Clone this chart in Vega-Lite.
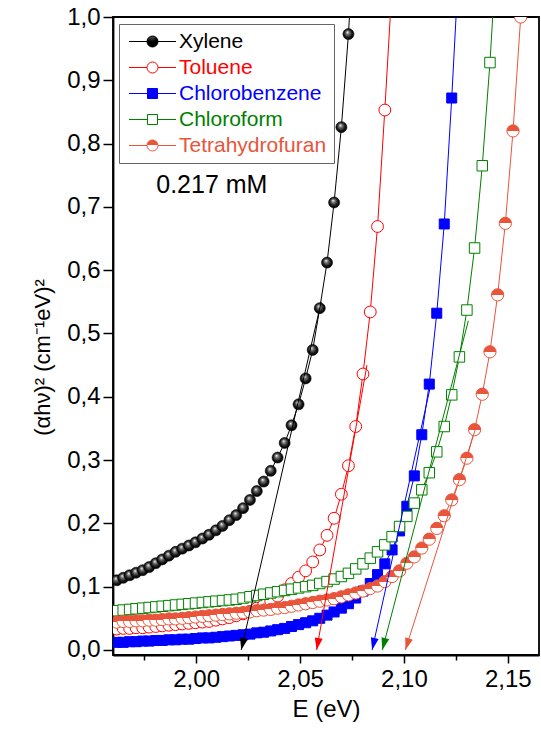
{
  "$schema": "https://vega.github.io/schema/vega-lite/v6.json",
  "width": 426,
  "height": 638,
  "autosize": {"type": "none"},
  "padding": {"left": 113, "top": 17, "right": 2, "bottom": 76},
  "background": "#ffffff",
  "config": {
    "font": "Liberation Sans",
    "view": {"stroke": "#000000", "strokeWidth": 1.8},
    "axis": {
      "grid": false,
      "domainColor": "#000000",
      "domainWidth": 1.8,
      "tickColor": "#000000",
      "tickWidth": 1.5,
      "labelColor": "#000000",
      "titleColor": "#000000",
      "titleFontWeight": "normal",
      "labelFont": "Liberation Sans",
      "titleFont": "Liberation Sans",
      "labelFlush": false,
      "labelOverlap": false
    }
  },
  "datasets": {
    "spectra": [
      {"Solvent": "Xylene", "E": 1.9618, "Y": 0.110},
      {"Solvent": "Xylene", "E": 1.9649, "Y": 0.114},
      {"Solvent": "Xylene", "E": 1.9680, "Y": 0.118},
      {"Solvent": "Xylene", "E": 1.9711, "Y": 0.122},
      {"Solvent": "Xylene", "E": 1.9743, "Y": 0.126},
      {"Solvent": "Xylene", "E": 1.9774, "Y": 0.131},
      {"Solvent": "Xylene", "E": 1.9806, "Y": 0.137},
      {"Solvent": "Xylene", "E": 1.9837, "Y": 0.143},
      {"Solvent": "Xylene", "E": 1.9869, "Y": 0.149},
      {"Solvent": "Xylene", "E": 1.9901, "Y": 0.155},
      {"Solvent": "Xylene", "E": 1.9933, "Y": 0.160},
      {"Solvent": "Xylene", "E": 1.9965, "Y": 0.165},
      {"Solvent": "Xylene", "E": 1.9997, "Y": 0.170},
      {"Solvent": "Xylene", "E": 2.0030, "Y": 0.176},
      {"Solvent": "Xylene", "E": 2.0062, "Y": 0.182},
      {"Solvent": "Xylene", "E": 2.0095, "Y": 0.189},
      {"Solvent": "Xylene", "E": 2.0127, "Y": 0.196},
      {"Solvent": "Xylene", "E": 2.0160, "Y": 0.205},
      {"Solvent": "Xylene", "E": 2.0193, "Y": 0.213},
      {"Solvent": "Xylene", "E": 2.0226, "Y": 0.224},
      {"Solvent": "Xylene", "E": 2.0259, "Y": 0.237},
      {"Solvent": "Xylene", "E": 2.0292, "Y": 0.251},
      {"Solvent": "Xylene", "E": 2.0325, "Y": 0.266},
      {"Solvent": "Xylene", "E": 2.0359, "Y": 0.283},
      {"Solvent": "Xylene", "E": 2.0392, "Y": 0.304},
      {"Solvent": "Xylene", "E": 2.0426, "Y": 0.327},
      {"Solvent": "Xylene", "E": 2.0459, "Y": 0.355},
      {"Solvent": "Xylene", "E": 2.0493, "Y": 0.388},
      {"Solvent": "Xylene", "E": 2.0527, "Y": 0.429},
      {"Solvent": "Xylene", "E": 2.0561, "Y": 0.474},
      {"Solvent": "Xylene", "E": 2.0595, "Y": 0.540},
      {"Solvent": "Xylene", "E": 2.0630, "Y": 0.612},
      {"Solvent": "Xylene", "E": 2.0664, "Y": 0.707},
      {"Solvent": "Xylene", "E": 2.0699, "Y": 0.826},
      {"Solvent": "Xylene", "E": 2.0733, "Y": 0.973},
      {"Solvent": "Xylene", "E": 2.0768, "Y": 1.17},

      {"Solvent": "Toluene", "E": 1.9618, "Y": 0.033},
      {"Solvent": "Toluene", "E": 1.9649, "Y": 0.034},
      {"Solvent": "Toluene", "E": 1.9680, "Y": 0.034},
      {"Solvent": "Toluene", "E": 1.9711, "Y": 0.035},
      {"Solvent": "Toluene", "E": 1.9743, "Y": 0.035},
      {"Solvent": "Toluene", "E": 1.9774, "Y": 0.036},
      {"Solvent": "Toluene", "E": 1.9806, "Y": 0.037},
      {"Solvent": "Toluene", "E": 1.9837, "Y": 0.038},
      {"Solvent": "Toluene", "E": 1.9869, "Y": 0.039},
      {"Solvent": "Toluene", "E": 1.9901, "Y": 0.040},
      {"Solvent": "Toluene", "E": 1.9933, "Y": 0.041},
      {"Solvent": "Toluene", "E": 1.9965, "Y": 0.042},
      {"Solvent": "Toluene", "E": 1.9997, "Y": 0.043},
      {"Solvent": "Toluene", "E": 2.0030, "Y": 0.044},
      {"Solvent": "Toluene", "E": 2.0062, "Y": 0.045},
      {"Solvent": "Toluene", "E": 2.0095, "Y": 0.047},
      {"Solvent": "Toluene", "E": 2.0127, "Y": 0.049},
      {"Solvent": "Toluene", "E": 2.0160, "Y": 0.051},
      {"Solvent": "Toluene", "E": 2.0193, "Y": 0.054},
      {"Solvent": "Toluene", "E": 2.0226, "Y": 0.057},
      {"Solvent": "Toluene", "E": 2.0259, "Y": 0.061},
      {"Solvent": "Toluene", "E": 2.0292, "Y": 0.066},
      {"Solvent": "Toluene", "E": 2.0325, "Y": 0.071},
      {"Solvent": "Toluene", "E": 2.0359, "Y": 0.077},
      {"Solvent": "Toluene", "E": 2.0392, "Y": 0.085},
      {"Solvent": "Toluene", "E": 2.0426, "Y": 0.095},
      {"Solvent": "Toluene", "E": 2.0459, "Y": 0.105},
      {"Solvent": "Toluene", "E": 2.0493, "Y": 0.115},
      {"Solvent": "Toluene", "E": 2.0527, "Y": 0.125},
      {"Solvent": "Toluene", "E": 2.0561, "Y": 0.139},
      {"Solvent": "Toluene", "E": 2.0595, "Y": 0.158},
      {"Solvent": "Toluene", "E": 2.0630, "Y": 0.181},
      {"Solvent": "Toluene", "E": 2.0664, "Y": 0.208},
      {"Solvent": "Toluene", "E": 2.0699, "Y": 0.246},
      {"Solvent": "Toluene", "E": 2.0733, "Y": 0.291},
      {"Solvent": "Toluene", "E": 2.0768, "Y": 0.353},
      {"Solvent": "Toluene", "E": 2.0803, "Y": 0.436},
      {"Solvent": "Toluene", "E": 2.0838, "Y": 0.534},
      {"Solvent": "Toluene", "E": 2.0873, "Y": 0.669},
      {"Solvent": "Toluene", "E": 2.0908, "Y": 0.853},
      {"Solvent": "Toluene", "E": 2.0943, "Y": 1.05},

      {"Solvent": "Chlorobenzene", "E": 1.9618, "Y": 0.012},
      {"Solvent": "Chlorobenzene", "E": 1.9649, "Y": 0.012},
      {"Solvent": "Chlorobenzene", "E": 1.9680, "Y": 0.013},
      {"Solvent": "Chlorobenzene", "E": 1.9711, "Y": 0.013},
      {"Solvent": "Chlorobenzene", "E": 1.9743, "Y": 0.014},
      {"Solvent": "Chlorobenzene", "E": 1.9774, "Y": 0.014},
      {"Solvent": "Chlorobenzene", "E": 1.9806, "Y": 0.015},
      {"Solvent": "Chlorobenzene", "E": 1.9837, "Y": 0.015},
      {"Solvent": "Chlorobenzene", "E": 1.9869, "Y": 0.016},
      {"Solvent": "Chlorobenzene", "E": 1.9901, "Y": 0.016},
      {"Solvent": "Chlorobenzene", "E": 1.9933, "Y": 0.017},
      {"Solvent": "Chlorobenzene", "E": 1.9965, "Y": 0.017},
      {"Solvent": "Chlorobenzene", "E": 1.9997, "Y": 0.018},
      {"Solvent": "Chlorobenzene", "E": 2.0030, "Y": 0.019},
      {"Solvent": "Chlorobenzene", "E": 2.0062, "Y": 0.019},
      {"Solvent": "Chlorobenzene", "E": 2.0095, "Y": 0.020},
      {"Solvent": "Chlorobenzene", "E": 2.0127, "Y": 0.021},
      {"Solvent": "Chlorobenzene", "E": 2.0160, "Y": 0.022},
      {"Solvent": "Chlorobenzene", "E": 2.0193, "Y": 0.023},
      {"Solvent": "Chlorobenzene", "E": 2.0226, "Y": 0.024},
      {"Solvent": "Chlorobenzene", "E": 2.0259, "Y": 0.025},
      {"Solvent": "Chlorobenzene", "E": 2.0292, "Y": 0.027},
      {"Solvent": "Chlorobenzene", "E": 2.0325, "Y": 0.028},
      {"Solvent": "Chlorobenzene", "E": 2.0359, "Y": 0.030},
      {"Solvent": "Chlorobenzene", "E": 2.0392, "Y": 0.032},
      {"Solvent": "Chlorobenzene", "E": 2.0426, "Y": 0.034},
      {"Solvent": "Chlorobenzene", "E": 2.0459, "Y": 0.037},
      {"Solvent": "Chlorobenzene", "E": 2.0493, "Y": 0.040},
      {"Solvent": "Chlorobenzene", "E": 2.0527, "Y": 0.043},
      {"Solvent": "Chlorobenzene", "E": 2.0561, "Y": 0.046},
      {"Solvent": "Chlorobenzene", "E": 2.0595, "Y": 0.050},
      {"Solvent": "Chlorobenzene", "E": 2.0630, "Y": 0.055},
      {"Solvent": "Chlorobenzene", "E": 2.0664, "Y": 0.060},
      {"Solvent": "Chlorobenzene", "E": 2.0699, "Y": 0.066},
      {"Solvent": "Chlorobenzene", "E": 2.0733, "Y": 0.073},
      {"Solvent": "Chlorobenzene", "E": 2.0768, "Y": 0.082},
      {"Solvent": "Chlorobenzene", "E": 2.0803, "Y": 0.093},
      {"Solvent": "Chlorobenzene", "E": 2.0838, "Y": 0.105},
      {"Solvent": "Chlorobenzene", "E": 2.0873, "Y": 0.119},
      {"Solvent": "Chlorobenzene", "E": 2.0908, "Y": 0.136},
      {"Solvent": "Chlorobenzene", "E": 2.0943, "Y": 0.158},
      {"Solvent": "Chlorobenzene", "E": 2.0979, "Y": 0.188},
      {"Solvent": "Chlorobenzene", "E": 2.1014, "Y": 0.227},
      {"Solvent": "Chlorobenzene", "E": 2.1050, "Y": 0.275},
      {"Solvent": "Chlorobenzene", "E": 2.1086, "Y": 0.340},
      {"Solvent": "Chlorobenzene", "E": 2.1122, "Y": 0.420},
      {"Solvent": "Chlorobenzene", "E": 2.1158, "Y": 0.532},
      {"Solvent": "Chlorobenzene", "E": 2.1194, "Y": 0.673},
      {"Solvent": "Chlorobenzene", "E": 2.1230, "Y": 0.872},
      {"Solvent": "Chlorobenzene", "E": 2.1267, "Y": 1.10},

      {"Solvent": "Chloroform", "E": 1.9618, "Y": 0.062},
      {"Solvent": "Chloroform", "E": 1.9649, "Y": 0.063},
      {"Solvent": "Chloroform", "E": 1.9680, "Y": 0.064},
      {"Solvent": "Chloroform", "E": 1.9711, "Y": 0.065},
      {"Solvent": "Chloroform", "E": 1.9743, "Y": 0.066},
      {"Solvent": "Chloroform", "E": 1.9774, "Y": 0.067},
      {"Solvent": "Chloroform", "E": 1.9806, "Y": 0.068},
      {"Solvent": "Chloroform", "E": 1.9837, "Y": 0.069},
      {"Solvent": "Chloroform", "E": 1.9869, "Y": 0.070},
      {"Solvent": "Chloroform", "E": 1.9901, "Y": 0.071},
      {"Solvent": "Chloroform", "E": 1.9933, "Y": 0.072},
      {"Solvent": "Chloroform", "E": 1.9965, "Y": 0.073},
      {"Solvent": "Chloroform", "E": 1.9997, "Y": 0.074},
      {"Solvent": "Chloroform", "E": 2.0030, "Y": 0.075},
      {"Solvent": "Chloroform", "E": 2.0062, "Y": 0.076},
      {"Solvent": "Chloroform", "E": 2.0095, "Y": 0.077},
      {"Solvent": "Chloroform", "E": 2.0127, "Y": 0.078},
      {"Solvent": "Chloroform", "E": 2.0160, "Y": 0.079},
      {"Solvent": "Chloroform", "E": 2.0193, "Y": 0.080},
      {"Solvent": "Chloroform", "E": 2.0226, "Y": 0.082},
      {"Solvent": "Chloroform", "E": 2.0259, "Y": 0.084},
      {"Solvent": "Chloroform", "E": 2.0292, "Y": 0.086},
      {"Solvent": "Chloroform", "E": 2.0325, "Y": 0.088},
      {"Solvent": "Chloroform", "E": 2.0359, "Y": 0.090},
      {"Solvent": "Chloroform", "E": 2.0392, "Y": 0.092},
      {"Solvent": "Chloroform", "E": 2.0426, "Y": 0.094},
      {"Solvent": "Chloroform", "E": 2.0459, "Y": 0.096},
      {"Solvent": "Chloroform", "E": 2.0493, "Y": 0.098},
      {"Solvent": "Chloroform", "E": 2.0527, "Y": 0.100},
      {"Solvent": "Chloroform", "E": 2.0561, "Y": 0.102},
      {"Solvent": "Chloroform", "E": 2.0595, "Y": 0.105},
      {"Solvent": "Chloroform", "E": 2.0630, "Y": 0.108},
      {"Solvent": "Chloroform", "E": 2.0664, "Y": 0.112},
      {"Solvent": "Chloroform", "E": 2.0699, "Y": 0.116},
      {"Solvent": "Chloroform", "E": 2.0733, "Y": 0.121},
      {"Solvent": "Chloroform", "E": 2.0768, "Y": 0.128},
      {"Solvent": "Chloroform", "E": 2.0803, "Y": 0.136},
      {"Solvent": "Chloroform", "E": 2.0838, "Y": 0.145},
      {"Solvent": "Chloroform", "E": 2.0873, "Y": 0.155},
      {"Solvent": "Chloroform", "E": 2.0908, "Y": 0.166},
      {"Solvent": "Chloroform", "E": 2.0943, "Y": 0.179},
      {"Solvent": "Chloroform", "E": 2.0979, "Y": 0.195},
      {"Solvent": "Chloroform", "E": 2.1014, "Y": 0.211},
      {"Solvent": "Chloroform", "E": 2.1050, "Y": 0.232},
      {"Solvent": "Chloroform", "E": 2.1086, "Y": 0.253},
      {"Solvent": "Chloroform", "E": 2.1122, "Y": 0.280},
      {"Solvent": "Chloroform", "E": 2.1158, "Y": 0.313},
      {"Solvent": "Chloroform", "E": 2.1194, "Y": 0.353},
      {"Solvent": "Chloroform", "E": 2.1230, "Y": 0.403},
      {"Solvent": "Chloroform", "E": 2.1267, "Y": 0.463},
      {"Solvent": "Chloroform", "E": 2.1303, "Y": 0.537},
      {"Solvent": "Chloroform", "E": 2.1340, "Y": 0.635},
      {"Solvent": "Chloroform", "E": 2.1377, "Y": 0.765},
      {"Solvent": "Chloroform", "E": 2.1414, "Y": 0.928},
      {"Solvent": "Chloroform", "E": 2.1451, "Y": 1.13},

      {"Solvent": "Tetrahydrofuran", "E": 1.9618, "Y": 0.044},
      {"Solvent": "Tetrahydrofuran", "E": 1.9649, "Y": 0.045},
      {"Solvent": "Tetrahydrofuran", "E": 1.9680, "Y": 0.045},
      {"Solvent": "Tetrahydrofuran", "E": 1.9711, "Y": 0.046},
      {"Solvent": "Tetrahydrofuran", "E": 1.9743, "Y": 0.046},
      {"Solvent": "Tetrahydrofuran", "E": 1.9774, "Y": 0.047},
      {"Solvent": "Tetrahydrofuran", "E": 1.9806, "Y": 0.047},
      {"Solvent": "Tetrahydrofuran", "E": 1.9837, "Y": 0.048},
      {"Solvent": "Tetrahydrofuran", "E": 1.9869, "Y": 0.049},
      {"Solvent": "Tetrahydrofuran", "E": 1.9901, "Y": 0.049},
      {"Solvent": "Tetrahydrofuran", "E": 1.9933, "Y": 0.050},
      {"Solvent": "Tetrahydrofuran", "E": 1.9965, "Y": 0.051},
      {"Solvent": "Tetrahydrofuran", "E": 1.9997, "Y": 0.052},
      {"Solvent": "Tetrahydrofuran", "E": 2.0030, "Y": 0.053},
      {"Solvent": "Tetrahydrofuran", "E": 2.0062, "Y": 0.054},
      {"Solvent": "Tetrahydrofuran", "E": 2.0095, "Y": 0.055},
      {"Solvent": "Tetrahydrofuran", "E": 2.0127, "Y": 0.056},
      {"Solvent": "Tetrahydrofuran", "E": 2.0160, "Y": 0.057},
      {"Solvent": "Tetrahydrofuran", "E": 2.0193, "Y": 0.058},
      {"Solvent": "Tetrahydrofuran", "E": 2.0226, "Y": 0.059},
      {"Solvent": "Tetrahydrofuran", "E": 2.0259, "Y": 0.060},
      {"Solvent": "Tetrahydrofuran", "E": 2.0292, "Y": 0.062},
      {"Solvent": "Tetrahydrofuran", "E": 2.0325, "Y": 0.063},
      {"Solvent": "Tetrahydrofuran", "E": 2.0359, "Y": 0.064},
      {"Solvent": "Tetrahydrofuran", "E": 2.0392, "Y": 0.066},
      {"Solvent": "Tetrahydrofuran", "E": 2.0426, "Y": 0.067},
      {"Solvent": "Tetrahydrofuran", "E": 2.0459, "Y": 0.069},
      {"Solvent": "Tetrahydrofuran", "E": 2.0493, "Y": 0.071},
      {"Solvent": "Tetrahydrofuran", "E": 2.0527, "Y": 0.073},
      {"Solvent": "Tetrahydrofuran", "E": 2.0561, "Y": 0.075},
      {"Solvent": "Tetrahydrofuran", "E": 2.0595, "Y": 0.077},
      {"Solvent": "Tetrahydrofuran", "E": 2.0630, "Y": 0.079},
      {"Solvent": "Tetrahydrofuran", "E": 2.0664, "Y": 0.081},
      {"Solvent": "Tetrahydrofuran", "E": 2.0699, "Y": 0.084},
      {"Solvent": "Tetrahydrofuran", "E": 2.0733, "Y": 0.087},
      {"Solvent": "Tetrahydrofuran", "E": 2.0768, "Y": 0.090},
      {"Solvent": "Tetrahydrofuran", "E": 2.0803, "Y": 0.093},
      {"Solvent": "Tetrahydrofuran", "E": 2.0838, "Y": 0.097},
      {"Solvent": "Tetrahydrofuran", "E": 2.0873, "Y": 0.101},
      {"Solvent": "Tetrahydrofuran", "E": 2.0908, "Y": 0.108},
      {"Solvent": "Tetrahydrofuran", "E": 2.0943, "Y": 0.116},
      {"Solvent": "Tetrahydrofuran", "E": 2.0979, "Y": 0.125},
      {"Solvent": "Tetrahydrofuran", "E": 2.1014, "Y": 0.137},
      {"Solvent": "Tetrahydrofuran", "E": 2.1050, "Y": 0.147},
      {"Solvent": "Tetrahydrofuran", "E": 2.1086, "Y": 0.161},
      {"Solvent": "Tetrahydrofuran", "E": 2.1122, "Y": 0.175},
      {"Solvent": "Tetrahydrofuran", "E": 2.1158, "Y": 0.192},
      {"Solvent": "Tetrahydrofuran", "E": 2.1194, "Y": 0.212},
      {"Solvent": "Tetrahydrofuran", "E": 2.1230, "Y": 0.237},
      {"Solvent": "Tetrahydrofuran", "E": 2.1267, "Y": 0.269},
      {"Solvent": "Tetrahydrofuran", "E": 2.1303, "Y": 0.303},
      {"Solvent": "Tetrahydrofuran", "E": 2.1340, "Y": 0.348},
      {"Solvent": "Tetrahydrofuran", "E": 2.1377, "Y": 0.404},
      {"Solvent": "Tetrahydrofuran", "E": 2.1414, "Y": 0.471},
      {"Solvent": "Tetrahydrofuran", "E": 2.1451, "Y": 0.561},
      {"Solvent": "Tetrahydrofuran", "E": 2.1488, "Y": 0.674},
      {"Solvent": "Tetrahydrofuran", "E": 2.1525, "Y": 0.820},
      {"Solvent": "Tetrahydrofuran", "E": 2.1562, "Y": 1.0},
      {"Solvent": "Tetrahydrofuran", "E": 2.1600, "Y": 1.2}
    ],
    "fits": [
      {"Solvent": "Xylene", "E": 2.0217, "Y": 0},
      {"Solvent": "Xylene", "E": 2.0602, "Y": 0.55},
      {"Solvent": "Toluene", "E": 2.058, "Y": 0},
      {"Solvent": "Toluene", "E": 2.0822, "Y": 0.45},
      {"Solvent": "Chlorobenzene", "E": 2.0847, "Y": 0},
      {"Solvent": "Chlorobenzene", "E": 2.113, "Y": 0.42},
      {"Solvent": "Chloroform", "E": 2.0896, "Y": 0},
      {"Solvent": "Chloroform", "E": 2.131, "Y": 0.52},
      {"Solvent": "Tetrahydrofuran", "E": 2.1007, "Y": 0},
      {"Solvent": "Tetrahydrofuran", "E": 2.1345, "Y": 0.35}
    ]
  },
  "layer": [
    {
      "data": {"name": "spectra"},
      "mark": {"type": "line", "strokeWidth": 1, "clip": true},
      "encoding": {
        "x": {
          "field": "E",
          "type": "quantitative",
          "scale": {"domain": [1.96, 2.165], "nice": false, "zero": false},
          "axis": {
            "title": "E (eV)",
            "values": [1.975, 2.0, 2.025, 2.05, 2.075, 2.1, 2.125, 2.15],
            "labelExpr": "abs(datum.value * 20 - round(datum.value * 20)) < 0.01 ? replace(format(datum.value, '.2f'), '.', ',') : ''",
            "tickSize": {"condition": {"test": "abs(datum.value * 20 - round(datum.value * 20)) < 0.01", "value": 8}, "value": 5},
            "labelFontSize": 24,
            "labelPadding": 4,
            "titleFontSize": 24,
            "titlePadding": 6
          }
        },
        "y": {
          "field": "Y",
          "type": "quantitative",
          "scale": {"domain": [-0.008, 1.0], "nice": false, "zero": false},
          "axis": {
            "title": "(αhν)² (cm⁻¹eV)²",
            "titleY": 340,
            "values": [0, 0.05, 0.1, 0.15, 0.2, 0.25, 0.3, 0.35, 0.4, 0.45, 0.5, 0.55, 0.6, 0.65, 0.7, 0.75, 0.8, 0.85, 0.9, 0.95, 1.0],
            "labelExpr": "abs(datum.value * 10 - round(datum.value * 10)) < 0.01 ? replace(format(datum.value, '.1f'), '.', ',') : ''",
            "tickSize": {"condition": {"test": "abs(datum.value * 10 - round(datum.value * 10)) < 0.01", "value": 10}, "value": 6},
            "labelFontSize": 24,
            "labelPadding": 3,
            "titleFontSize": 22,
            "titlePadding": 12
          }
        },
        "color": {
          "field": "Solvent",
          "type": "nominal",
          "scale": {
            "domain": ["Xylene", "Toluene", "Chlorobenzene", "Chloroform", "Tetrahydrofuran"],
            "range": ["#000000", "#ff0000", "#0000ff", "#008000", "#e8553b"]
          },
          "legend": {
            "title": null,
            "orient": "none",
            "legendX": 6,
            "legendY": 7,
            "strokeColor": "#666666",
            "fillColor": "#ffffff",
            "padding": 7,
            "rowPadding": 4,
            "symbolSize": 121,
            "symbolStrokeWidth": 1,
            "symbolOffset": 16,
            "labelFontSize": 21,
            "labelFont": "Liberation Sans",
            "labelOffset": 16,
            "labelLimit": 0,
            "labelColor": {"expr": "scale('color', datum.value)"},
            "symbolType": {"expr": "indexof(['Chlorobenzene', 'Chloroform'], datum.value) >= 0 ? 'M-4.27,0L-0.91,0M0.91,0L4.27,0M-0.91,-0.91L0.91,-0.91L0.91,0.91L-0.91,0.91Z' : 'M-4.27,0L-1,0M1,0L4.27,0M-1,0A1,1,0,1,1,1,0A1,1,0,1,1,-1,0Z'"},
            "symbolFillColor": {"expr": "datum.value === 'Xylene' ? {gradient: 'radial', x1: 0.47, y1: 0.3, r1: 0, x2: 0.5, y2: 0.5, r2: 0.5, stops: [{offset: 0, color: '#ffffff'}, {offset: 0.12, color: '#555555'}, {offset: 0.3, color: '#000000'}, {offset: 1, color: '#000000'}]} : datum.value === 'Chlorobenzene' ? '#0000ff' : datum.value === 'Tetrahydrofuran' ? {gradient: 'linear', x1: 0, y1: 0, x2: 0, y2: 1, stops: [{offset: 0.5, color: '#e8553b'}, {offset: 0.5, color: '#ffffff'}]} : '#ffffff'"}
          }
        }
      }
    },
    {
      "data": {"name": "spectra"},
      "transform": [{"filter": "datum.Solvent === 'Xylene'"}],
      "mark": {
        "type": "point", "shape": "circle", "size": 121, "filled": true, "opacity": 1, "clip": true,
        "fill": {"gradient": "radial", "x1": 0.4, "y1": 0.32, "r1": 0, "x2": 0.5, "y2": 0.5, "r2": 0.55,
          "stops": [{"offset": 0, "color": "#ffffff"}, {"offset": 0.3, "color": "#707070"}, {"offset": 0.7, "color": "#111111"}, {"offset": 1, "color": "#000000"}]},
        "stroke": "#000000", "strokeWidth": 0.6
      },
      "encoding": {
        "x": {"field": "E", "type": "quantitative"},
        "y": {"field": "Y", "type": "quantitative"}
      }
    },
    {
      "data": {"name": "spectra"},
      "transform": [{"filter": "datum.Solvent === 'Toluene'"}],
      "mark": {"type": "point", "shape": "circle", "size": 140, "filled": true, "opacity": 1, "clip": true, "fill": "#ffffff", "stroke": "#ff0000", "strokeWidth": 1},
      "encoding": {
        "x": {"field": "E", "type": "quantitative"},
        "y": {"field": "Y", "type": "quantitative"}
      }
    },
    {
      "data": {"name": "spectra"},
      "transform": [{"filter": "datum.Solvent === 'Chlorobenzene'"}],
      "mark": {"type": "point", "shape": "square", "size": 100, "filled": true, "opacity": 1, "clip": true, "fill": "#0000ff", "stroke": "#0000ff", "strokeWidth": 1},
      "encoding": {
        "x": {"field": "E", "type": "quantitative"},
        "y": {"field": "Y", "type": "quantitative"}
      }
    },
    {
      "data": {"name": "spectra"},
      "transform": [{"filter": "datum.Solvent === 'Chloroform'"}],
      "mark": {"type": "point", "shape": "square", "size": 110, "filled": true, "opacity": 1, "clip": true, "fill": "#ffffff", "stroke": "#008000", "strokeWidth": 1},
      "encoding": {
        "x": {"field": "E", "type": "quantitative"},
        "y": {"field": "Y", "type": "quantitative"}
      }
    },
    {
      "data": {"name": "spectra"},
      "transform": [{"filter": "datum.Solvent === 'Tetrahydrofuran'"}],
      "mark": {
        "type": "point", "shape": "circle", "size": 150, "filled": true, "opacity": 1, "clip": true,
        "fill": {"gradient": "linear", "x1": 0, "y1": 0, "x2": 0, "y2": 1,
          "stops": [{"offset": 0.5, "color": "#e8553b"}, {"offset": 0.5, "color": "#ffffff"}]},
        "stroke": "#e8553b", "strokeWidth": 1
      },
      "encoding": {
        "x": {"field": "E", "type": "quantitative"},
        "y": {"field": "Y", "type": "quantitative"}
      }
    },
    {
      "data": {"name": "fits"},
      "mark": {"type": "line", "strokeWidth": 1, "clip": true},
      "encoding": {
        "x": {"field": "E", "type": "quantitative"},
        "y": {"field": "Y", "type": "quantitative"},
        "color": {"field": "Solvent", "type": "nominal"}
      }
    },
    {
      "data": {"name": "fits"},
      "transform": [{"filter": "datum.Y === 0 && datum.Solvent === 'Xylene'"}],
      "mark": {"type": "point", "shape": "M0,0L-0.097,-1.049L0.547,-0.900Z", "size": 576, "filled": true, "fill": "#000000", "opacity": 1, "strokeWidth": 0},
      "encoding": {
        "x": {"field": "E", "type": "quantitative"},
        "y": {"field": "Y", "type": "quantitative"}
      }
    },
    {
      "data": {"name": "fits"},
      "transform": [{"filter": "datum.Y === 0 && datum.Solvent === 'Toluene'"}],
      "mark": {"type": "point", "shape": "M0,0L-0.151,-1.042L0.499,-0.928Z", "size": 576, "filled": true, "fill": "#ff0000", "opacity": 1, "strokeWidth": 0},
      "encoding": {
        "x": {"field": "E", "type": "quantitative"},
        "y": {"field": "Y", "type": "quantitative"}
      }
    },
    {
      "data": {"name": "fits"},
      "transform": [{"filter": "datum.Y === 0 && datum.Solvent === 'Chlorobenzene'"}],
      "mark": {"type": "point", "shape": "M0,0L-0.106,-1.048L0.539,-0.905Z", "size": 576, "filled": true, "fill": "#0000ff", "opacity": 1, "strokeWidth": 0},
      "encoding": {
        "x": {"field": "E", "type": "quantitative"},
        "y": {"field": "Y", "type": "quantitative"}
      }
    },
    {
      "data": {"name": "fits"},
      "transform": [{"filter": "datum.Y === 0 && datum.Solvent === 'Chloroform'"}],
      "mark": {"type": "point", "shape": "M0,0L-0.067,-1.051L0.571,-0.885Z", "size": 576, "filled": true, "fill": "#008000", "opacity": 1, "strokeWidth": 0},
      "encoding": {
        "x": {"field": "E", "type": "quantitative"},
        "y": {"field": "Y", "type": "quantitative"}
      }
    },
    {
      "data": {"name": "fits"},
      "transform": [{"filter": "datum.Y === 0 && datum.Solvent === 'Tetrahydrofuran'"}],
      "mark": {"type": "point", "shape": "M0,0L-0.012,-1.053L0.617,-0.853Z", "size": 576, "filled": true, "fill": "#e8553b", "opacity": 1, "strokeWidth": 0},
      "encoding": {
        "x": {"field": "E", "type": "quantitative"},
        "y": {"field": "Y", "type": "quantitative"}
      }
    },
    {
      "data": {"values": [{}]},
      "mark": {"type": "text", "text": "0.217 mM", "align": "left", "baseline": "alphabetic", "fontSize": 25, "font": "Liberation Sans", "color": "#000000"},
      "encoding": {
        "x": {"datum": 1.9808, "type": "quantitative"},
        "y": {"datum": 0.722, "type": "quantitative"}
      }
    }
  ]
}
